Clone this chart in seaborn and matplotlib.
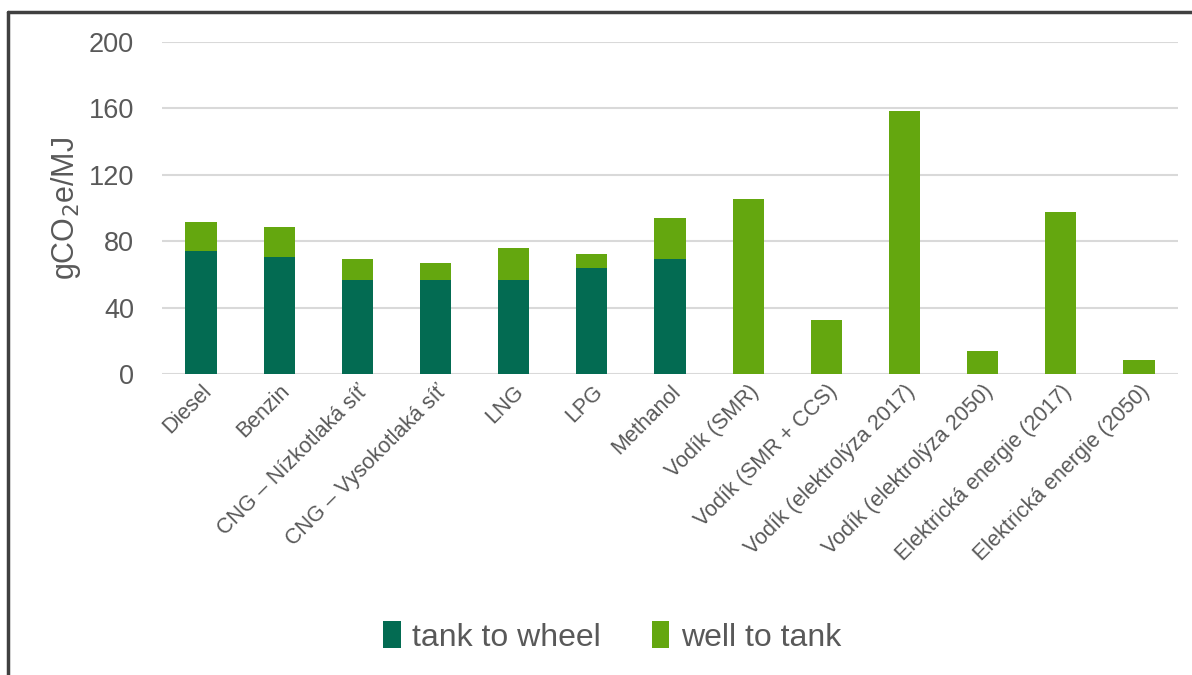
import matplotlib
matplotlib.use("Agg")
import matplotlib.pyplot as plt
import seaborn as sns
import numpy as np
from matplotlib.patches import Patch
from matplotlib.lines import Line2D

categories = ["Diesel", "Benzin", "CNG – Nízkotlaká síť", "CNG – Vysokotlaká síť",
              "LNG", "LPG", "Methanol", "Vodík (SMR)", "Vodík (SMR + CCS)",
              "Vodík (elektrolýza 2017)", "Vodík (elektrolýza 2050)",
              "Elektrická energie (2017)", "Elektrická energie (2050)"]
tank_to_wheel = [74, 70.5, 56.8, 56.8, 56.8, 63.7, 69.5, 0, 0, 0, 0, 0, 0]
well_to_tank = [17.6, 18.1, 12.4, 9.9, 19.4, 8.5, 24.3, 105.4, 32.5, 158.5, 13.8, 97.6, 8.3]
yticks = [0, 40, 80, 120, 160, 200]

dark = "#036B52"
light = "#64A70F"
grey_text = "#595959"

sns.set_theme(style="white")
plt.rcParams['font.family'] = ['Liberation Sans', 'DejaVu Sans']

fig = plt.figure(figsize=(11.92, 6.75), dpi=100)
ax = fig.add_axes([162/1192, 1-374/675, (1178-162)/1192, (374-42)/675])

sns.barplot(x=categories, y=tank_to_wheel, color=dark, width=0.4, ax=ax,
            saturation=1, zorder=3, linewidth=0)
sns.barplot(x=categories, y=well_to_tank, bottom=tank_to_wheel, color=light,
            width=0.4, ax=ax, saturation=1, zorder=3, linewidth=0)

ax.set_ylim(0, 200)
ax.set_yticks(yticks)
ax.set_xlim(-0.5, len(categories) - 0.5)
ax.yaxis.grid(True, color="#D9D9D9", linewidth=1.5, zorder=0)
ax.xaxis.grid(False)
for s in ax.spines.values():
    s.set_visible(False)
ax.tick_params(axis="y", labelsize=19.5, labelcolor=grey_text, length=0, pad=20)
ax.tick_params(axis="x", labelsize=15.5, labelcolor=grey_text, length=0, pad=5)
for lbl in ax.get_xticklabels():
    lbl.set_rotation(45)
    lbl.set_ha("right")
    lbl.set_rotation_mode("anchor")
ax.set_ylabel("gCO$_2$e/MJ", fontsize=22, color=grey_text, labelpad=4)

handles = [Patch(facecolor=dark, edgecolor="none"), Patch(facecolor=light, edgecolor="none")]
fig.legend(handles, ["tank to wheel", "well to tank"], loc="center",
           bbox_to_anchor=(612/1192, 1-637/675), ncol=2, frameon=False,
           fontsize=23, labelcolor=grey_text, handlelength=0.55, handleheight=0.9,
           handletextpad=0.35, columnspacing=1.6)

# figure frame (top and left lines)
fig.add_artist(Line2D([8/1192, 8/1192], [0, 1-12/675], transform=fig.transFigure,
                      color="#404040", linewidth=2.5))
fig.add_artist(Line2D([8/1192, 1], [1-12/675, 1-12/675], transform=fig.transFigure,
                      color="#404040", linewidth=2.5))

fig.savefig("out.png", dpi=100)
